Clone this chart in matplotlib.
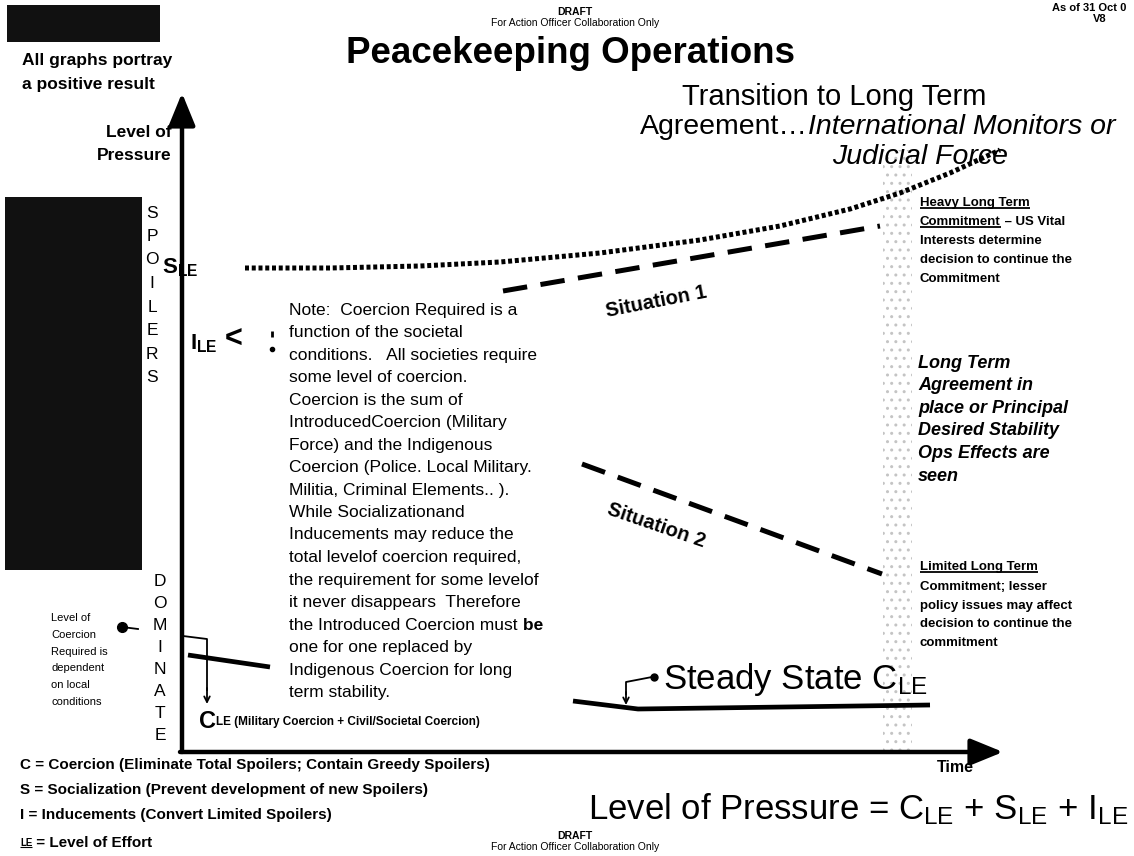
import matplotlib
matplotlib.use("Agg")
import matplotlib.pyplot as plt
from matplotlib.patches import Rectangle

plt.rcParams["font.family"] = ["Liberation Sans", "DejaVu Sans"]

# curves, in slide pixel units (time -> x, level -> y, y grows downward)
sle_time = [245, 330, 420, 500, 600, 700, 780, 850, 900, 950, 1000]
sle_level = [268, 268, 266, 262, 253, 240, 226, 209, 193, 173, 150]
sit1_time = [503, 880]
sit1_level = [291, 226]
sit2_time = [582, 882]
sit2_level = [464, 574]
cle_left_time = [188, 270]
cle_left_level = [655, 667]
cle_right_time = [573, 638, 930]
cle_right_level = [701, 709, 705]

spoilers = list("SPOILERS")
dominate = list("DOMINATE")

note_lines = [
    "Note:  Coercion Required is a",
    "function of the societal",
    "conditions.   All societies require",
    "some level of coercion.",
    "Coercion is the sum of",
    "IntroducedCoercion (Military",
    "Force) and the Indigenous",
    "Coercion (Police. Local Military.",
    "Militia, Criminal Elements.. ).",
    "While Socializationand",
    "Inducements may reduce the",
    "total levelof coercion required,",
    "the requirement for some levelof",
    "it never disappears  Therefore",
    "the Introduced Coercion must",
    "one for one replaced by",
    "Indigenous Coercion for long",
    "term stability.",
]
long_term_lines = [
    "Long Term",
    "Agreement in",
    "place or Principal",
    "Desired Stability",
    "Ops Effects are",
    "seen",
]
heavy_lines = ["Interests determine", "decision to continue the", "Commitment"]
limited_lines = ["Commitment; lesser", "policy issues may affect",
                 "decision to continue the", "commitment"]
coercion_note = ["Level of", "Coercion", "Required is", "dependent",
                 "on local", "conditions"]
legend_lines = [
    "C = Coercion (Eliminate Total Spoilers; Contain Greedy Spoilers)",
    "S = Socialization (Prevent development of new Spoilers)",
    "I = Inducements (Convert Limited Spoilers)",
]

fig = plt.figure(figsize=(11.34, 8.56), dpi=100)
ax = fig.add_axes([0, 0, 1, 1])
ax.set_xlim(0, 1134)
ax.set_ylim(856, 0)
ax.axis("off")
renderer = fig.canvas.get_renderer()


def after(prev, s, **kw):
    bb = prev.get_window_extent(renderer)
    x = ax.transData.inverted().transform((bb.x1, bb.y0))[0]
    return ax.text(x, prev.get_position()[1], s, va=prev.get_va(), **kw)


def underline(t, lw=1.3):
    bb = t.get_window_extent(renderer)
    (x0, y0), (x1, _) = ax.transData.inverted().transform([(bb.x0, bb.y0), (bb.x1, bb.y0)])
    ax.plot([x0, x1], [y0 - 1, y0 - 1], color="black", lw=lw, solid_capstyle="butt")


# scanned black blocks and stippled band
ax.add_patch(Rectangle((7, 5), 153, 37, color="#111111", lw=0))
ax.add_patch(Rectangle((5, 197), 137, 373, color="#111111", lw=0))
ax.add_patch(Rectangle((883, 150), 29, 600, facecolor="none", edgecolor="#c4c4c4",
                       hatch="..", lw=0))

# headers
ax.text(575, 12, "DRAFT", ha="center", va="center", fontsize=7.5, fontweight="bold")
ax.text(575, 23, "For Action Officer Collaboration Only", ha="center", va="center", fontsize=7.5)
ax.text(1052, 8, "As of 31 Oct 0", ha="left", va="center", fontsize=8, fontweight="bold")
ax.text(1100, 19, "V8", ha="center", va="center", fontsize=8, fontweight="bold")
ax.text(570, 53, "Peacekeeping Operations", ha="center", va="center",
        fontsize=26.5, fontweight="bold")
ax.text(22, 60, "All graphs portray", ha="left", va="center", fontsize=12.5, fontweight="bold")
ax.text(22, 84, "a positive result", ha="left", va="center", fontsize=12.5, fontweight="bold")

ax.text(834, 97, "Transition to Long Term", ha="center", va="center", fontsize=21)
t = ax.text(640, 127, "Agreement\u2026", ha="left", va="center", fontsize=20.5)
after(t, "International Monitors or", fontsize=20.5, style="italic")
ax.text(920, 157, "Judicial Force", ha="center", va="center", fontsize=20.5, style="italic")

# axes arrows
ax.annotate("", xy=(182, 93), xytext=(182, 752),
            arrowprops=dict(arrowstyle="-|>,head_width=0.45,head_length=1.1",
                            lw=3.2, color="black", shrinkA=0, shrinkB=0, mutation_scale=18))
ax.annotate("", xy=(1003, 752), xytext=(180, 752),
            arrowprops=dict(arrowstyle="-|>,head_width=0.45,head_length=1.1",
                            lw=3.2, color="black", shrinkA=0, shrinkB=0, mutation_scale=18))
ax.text(172, 132, "Level of", ha="right", va="center", fontsize=12.5, fontweight="bold")
ax.text(172, 155, "Pressure", ha="right", va="center", fontsize=12.5, fontweight="bold")
ax.text(955, 767, "Time", ha="center", va="center", fontsize=11.5, fontweight="bold")

for i, ch in enumerate(spoilers):
    ax.text(152, 213 + 23.5 * i, ch, ha="center", va="center", fontsize=12.5)
for i, ch in enumerate(dominate):
    ax.text(160, 582 + 22 * i, ch, ha="center", va="center", fontsize=12.5)

# S_LE, situation 1 & 2
ax.plot(sle_time, sle_level, color="black", lw=3.6, linestyle=(0, (0.8, 0.55)),
        dash_capstyle="butt")
ax.plot(sit1_time, sit1_level, color="black", lw=3.6, linestyle=(0, (4.9, 2.7)),
        dash_capstyle="butt")
ax.plot(sit2_time, sit2_level, color="black", lw=3.6, linestyle=(0, (4.9, 2.7)),
        dash_capstyle="butt")
ax.text(162, 268, r"$\mathregular{S_{LE}}$", ha="left", va="center", fontsize=16, fontweight="bold")
ax.text(190, 344, r"$\mathregular{I_{LE}}$", ha="left", va="center", fontsize=16, fontweight="bold")
ax.text(225, 340, "<", ha="left", va="center", fontsize=22, fontweight="bold")
ax.plot([272], [334], marker="|", color="black", ms=4, mew=2)
ax.plot([272], [349], marker="o", color="black", ms=3)
ax.text(656, 302, "Situation 1", ha="center", va="center", fontsize=14.5,
        fontweight="bold", rotation=11)
ax.text(656, 525, "Situation 2", ha="center", va="center", fontsize=14.5,
        fontweight="bold", rotation=-19)

# note block
for i, line in enumerate(note_lines):
    t = ax.text(289, 310 + 22.5 * i, line, ha="left", va="center", fontsize=12.5)
    if line.endswith("must"):
        after(t, " be", fontsize=12.5, fontweight="bold")

# right-hand annotations
t = ax.text(920, 203, "Heavy Long Term", ha="left", va="center", fontsize=9.5, fontweight="bold")
underline(t)
t = ax.text(920, 222, "Commitment", ha="left", va="center", fontsize=9.5, fontweight="bold")
underline(t)
after(t, " \u2013 US Vital", fontsize=9.5, fontweight="bold")
for i, line in enumerate(heavy_lines):
    ax.text(920, 241 + 19 * i, line, ha="left", va="center", fontsize=9.5, fontweight="bold")

for i, line in enumerate(long_term_lines):
    ax.text(918, 363 + 22.6 * i, line, ha="left", va="center", fontsize=13,
            fontweight="bold", style="italic")

t = ax.text(920, 567, "Limited Long Term", ha="left", va="center", fontsize=9.5, fontweight="bold")
underline(t)
for i, line in enumerate(limited_lines):
    ax.text(920, 587 + 18.7 * i, line, ha="left", va="center", fontsize=9.5, fontweight="bold")

# coercion level lines
ax.plot(cle_left_time, cle_left_level, color="black", lw=3.4, solid_capstyle="butt")
ax.plot(cle_right_time, cle_right_level, color="black", lw=3.4, solid_capstyle="butt")
ax.plot([183, 207, 207], [636, 639, 690], color="black", lw=1.3)
ax.annotate("", xy=(207, 704), xytext=(207, 688),
            arrowprops=dict(arrowstyle="->", lw=1.3, color="black", shrinkA=0, shrinkB=0))
ax.plot([122, 138], [627, 629], color="black", lw=1.3)
ax.plot([122], [627], marker="o", color="black", ms=7)
for i, line in enumerate(coercion_note):
    ax.text(51, 618 + 16.8 * i, line, ha="left", va="center", fontsize=8)
t = ax.text(199, 722, "C", ha="left", va="center", fontsize=17, fontweight="bold")
after(t, "LE (Military Coercion + Civil/Societal Coercion)", fontsize=8.5,
      fontweight="bold")

# steady state
ax.plot([652, 626, 626], [677, 682, 694], color="black", lw=1.3)
ax.annotate("", xy=(626, 705), xytext=(626, 692),
            arrowprops=dict(arrowstyle="->", lw=1.3, color="black", shrinkA=0, shrinkB=0))
ax.plot([654], [677], marker="o", color="black", ms=5)
ax.text(663, 680, r"Steady State $\mathregular{C_{LE}}$", ha="left", va="center", fontsize=25)

# legend & equation
for i, line in enumerate(legend_lines):
    ax.text(20, 765 + 25 * i, line, ha="left", va="center", fontsize=11, fontweight="bold")
t = ax.text(20, 843, "LE", ha="left", va="center", fontsize=7, fontweight="bold")
underline(t, lw=0.8)
after(t, " = Level of Effort", fontsize=11, fontweight="bold")
ax.text(1128, 809, r"Level of Pressure = $\mathregular{C_{LE}}$ + $\mathregular{S_{LE}}$ + $\mathregular{I_{LE}}$",
        ha="right", va="center", fontsize=25)
ax.text(575, 836, "DRAFT", ha="center", va="center", fontsize=7.5, fontweight="bold")
ax.text(575, 847, "For Action Officer Collaboration Only", ha="center", va="center", fontsize=7.5)

fig.savefig("out.png", dpi=100)
